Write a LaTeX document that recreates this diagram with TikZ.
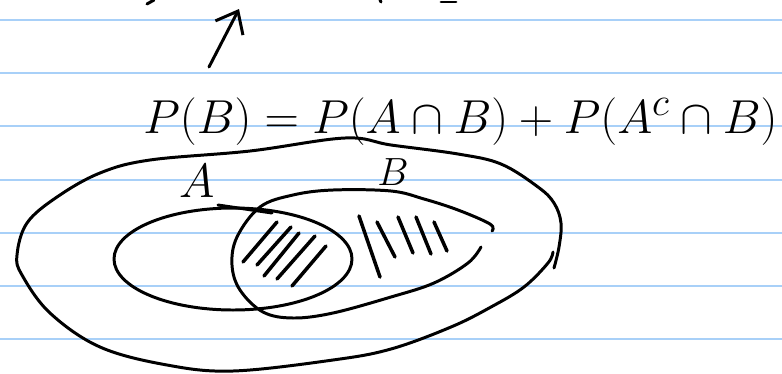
\documentclass[tikz,border=0pt]{standalone}
\usetikzlibrary{arrows.meta}
\definecolor{ruleblue}{RGB}{168,208,248}
\tikzset{
  pen/.style={line width=1.7pt, line cap=round, line join=round},
  hatch/.style={line width=2pt, line cap=round},
  ruled/.style={ruleblue, line width=1.1pt}
}
\begin{document}
\begin{tikzpicture}[x=0.02cm, y=-0.02cm]
  % Hoja rayada
  \fill[white] (0,0) rectangle (782,373);
  \useasboundingbox (0,0) rectangle (782,373);
  \foreach \y in {20,73,126,180,233,286,339}
    \draw[ruled] (0,\y) -- (782,\y);
  % Restos del renglon de arriba
  \draw[pen] (147,4) -- (154,0);
  \draw[pen] (380,0) -- (381,2);
  \draw[pen] (441,2) -- (456,2);
  % Flecha
  \coordinate (arrowtail) at (209,67);
  \coordinate (arrowtip) at (239,9);
  \draw[pen, -{Straight Barb[length=0.38cm, width=0.62cm]}] (arrowtail) -- (arrowtip);
  % Formula
  \node[anchor=base west, inner sep=0pt, font=\Huge, scale=1.09] (formula) at (143,133)
    {$P(B)=P(A\cap B)+P(A^c\cap B)$};
  % Conjunto universal
  \draw[pen] plot[smooth, tension=0.6] coordinates {(554,268) (559,247) (561,223) (554,203) (538,187)
    (501,164) (458,154) (391,145) (345,138) (250,151) (150,160) (100,173) (57,197) (27,223) (17,255)
    (22,275) (50,313) (100,347) (167,365) (233,371) (333,360) (391,349) (451,327) (491,307) (524,287)
    (548,263) (553,252)};
  % Conjunto A
  \draw[pen] (233,259) ellipse [x radius=119, y radius=51];
  \draw[pen] (218,205) -- (272,213);
  \node[font=\Huge, scale=1.1] (labelA) at (197,181) {$A$};
  % Conjunto B
  \draw[pen] plot[smooth, tension=0.6] coordinates {(492,231) (490,224) (458,210) (424,199) (391,191)
    (333,190) (293,195) (260,207) (237,237) (232,265) (240,290) (263,312) (293,318) (333,313)
    (391,297) (434,283) (468,263) (481,247)};
  \node[font=\huge, scale=1.08] (labelB) at (393,172) {$B$};
  % Rayado de A interseccion B
  \draw[hatch] (243,262) -- (277,222);
  \draw[hatch] (257,265) -- (291,227);
  \draw[hatch] (264,276) -- (299,233);
  \draw[hatch] (277,279) -- (315,236);
  \draw[hatch] (292,286) -- (326,246);
  % Rayado de B sin A
  \draw[hatch] (359,216) -- (380,277);
  \draw[hatch] (377,222) -- (395,257);
  \draw[hatch] (398,217) -- (413,253);
  \draw[hatch] (416,217) -- (431,254);
  \draw[hatch] (434,222) -- (447,251);
\end{tikzpicture}
\end{document}
